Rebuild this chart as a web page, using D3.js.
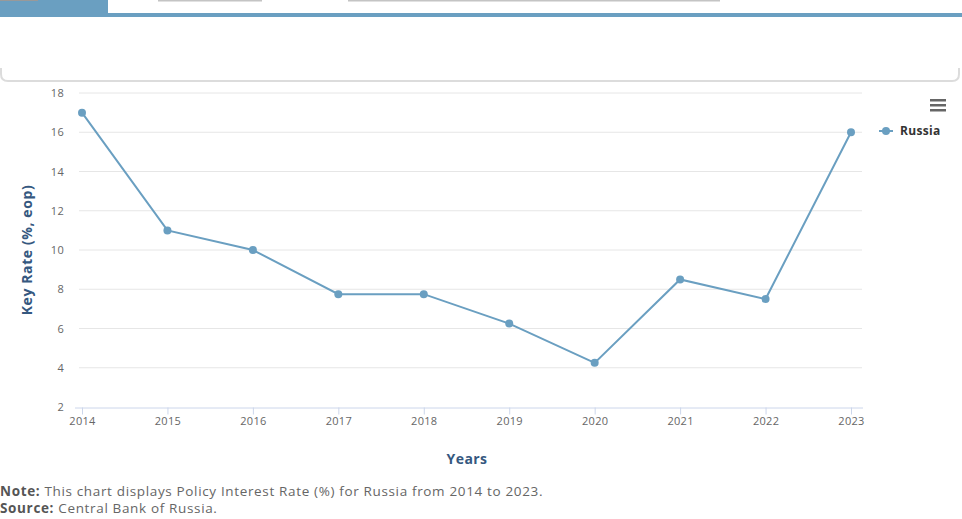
<!DOCTYPE html>
<html>
<head>
<meta charset="utf-8">
<script src="https://cdn.jsdelivr.net/npm/d3@7"></script>
<style>
  body { margin: 0; background: #fff; font-family: "Open Sans", sans-serif; }
  svg { display: block; }
</style>
</head>
<body>
<script>
let w = 962;
let h = 519;

let years = [2014, 2015, 2016, 2017, 2018, 2019, 2020, 2021, 2022, 2023];
let russia = [17, 11, 10, 7.75, 7.75, 6.25, 4.25, 8.5, 7.5, 16];
let yTicks = [2, 4, 6, 8, 10, 12, 14, 16, 18];

let lineColor = "#6a9fc1";
let titleColor = "#35587f";

let svg = d3.select("body")
    .append("svg")
    .attr("width", w)
    .attr("height", h)

// page decoration above chart
svg.append("rect").attr("x", 0).attr("y", 0).attr("width", 108).attr("height", 15).attr("fill", lineColor)
svg.append("rect").attr("x", 0).attr("y", 0).attr("width", 38).attr("height", 1).attr("fill", "#999")
svg.append("rect").attr("x", 158).attr("y", 0).attr("width", 104).attr("height", 1.5).attr("fill", "#c4c4c4")
svg.append("rect").attr("x", 348).attr("y", 0).attr("width", 372).attr("height", 1.5).attr("fill", "#c4c4c4")
svg.append("rect").attr("x", 0).attr("y", 13).attr("width", w).attr("height", 4).attr("fill", lineColor)
svg.append("path")
    .attr("d", "M1,68 L1,74 Q1,81 8,81 L952,81 Q959,81 959,74 L959,68")
    .attr("fill", "none")
    .attr("stroke", "#dcdcdc")
    .attr("stroke-width", 2)

let x = d3.scalePoint()
    .domain(years)
    .range([82, 851])

let y = d3.scaleLinear()
    .domain([2, 18])
    .range([407, 93])

// grid
svg.append("g")
    .selectAll("line")
    .data(yTicks.slice(1))
    .enter()
    .append("line")
    .attr("x1", 79)
    .attr("x2", 862)
    .attr("y1", d => y(d))
    .attr("y2", d => y(d))
    .attr("stroke", "#e6e6e6")
    .attr("stroke-width", 1)

// y axis labels
let yAxis = svg.append("g")
    .attr("transform", "translate(64,0)")
    .call(d3.axisLeft(y).tickValues(yTicks).tickSize(0).tickPadding(0))
yAxis.select(".domain").remove()
yAxis.selectAll("text")
    .attr("fill", "#666")
    .attr("font-family", "Open Sans, sans-serif")
    .attr("font-size", "11px")
    .attr("letter-spacing", "0.3px")

// x axis
let xAxis = svg.append("g")
    .attr("transform", "translate(0,407.5)")
    .call(d3.axisBottom(x).tickSize(7).tickPadding(3).tickSizeOuter(0))
xAxis.select(".domain")
    .attr("d", "M75,0.5H863")
    .attr("stroke", "#ccd6eb")
xAxis.selectAll("line").attr("stroke", "#ccd6eb")
xAxis.selectAll("text")
    .attr("fill", "#666")
    .attr("font-family", "Open Sans, sans-serif")
    .attr("font-size", "11px")
    .attr("letter-spacing", "0.3px")

// axis titles
svg.append("text")
    .text("Key Rate (%, eop)")
    .attr("transform", "translate(32,250) rotate(-90)")
    .attr("text-anchor", "middle")
    .attr("fill", titleColor)
    .attr("font-family", "Open Sans, sans-serif")
    .attr("font-weight", "bold")
    .attr("font-size", "14px")
    .attr("letter-spacing", "0.6px")

svg.append("text")
    .text("Years")
    .attr("x", 467)
    .attr("y", 464)
    .attr("text-anchor", "middle")
    .attr("fill", titleColor)
    .attr("font-family", "Open Sans, sans-serif")
    .attr("font-weight", "bold")
    .attr("font-size", "14px")
    .attr("letter-spacing", "0.4px")

// series
let data = years.map((d, i) => ({year: d, value: russia[i]}))

svg.append("path")
    .datum(data)
    .attr("d", d3.line().x(d => x(d.year)).y(d => y(d.value)))
    .attr("fill", "none")
    .attr("stroke", lineColor)
    .attr("stroke-width", 2)

svg.selectAll("circle.pt")
    .data(data)
    .enter()
    .append("circle")
    .attr("class", "pt")
    .attr("cx", d => x(d.year))
    .attr("cy", d => y(d.value))
    .attr("r", 4)
    .attr("fill", lineColor)

// legend
let legend = svg.append("g").attr("transform", "translate(879,131)")
legend.append("line").attr("x1", 0).attr("x2", 14).attr("y1", 0).attr("y2", 0)
    .attr("stroke", lineColor).attr("stroke-width", 2)
legend.append("circle").attr("cx", 7).attr("cy", 0).attr("r", 4).attr("fill", lineColor)
legend.append("text")
    .text("Russia")
    .attr("x", 21)
    .attr("y", 4)
    .attr("fill", "#333")
    .attr("font-family", "Open Sans, sans-serif")
    .attr("font-weight", "bold")
    .attr("font-size", "12px")
    .attr("letter-spacing", "0.3px")

// menu icon
svg.append("g")
    .selectAll("rect")
    .data([0, 5, 10])
    .enter()
    .append("rect")
    .attr("x", 930)
    .attr("y", d => 99 + d)
    .attr("width", 16)
    .attr("height", 2.5)
    .attr("fill", "#666")

// note and source
let note = svg.append("text")
    .attr("x", 0)
    .attr("y", 496)
    .attr("fill", "#666")
    .attr("font-family", "Open Sans, sans-serif")
    .attr("font-size", "13.5px")
    .attr("letter-spacing", "0.65px")
note.append("tspan").text("Note:").attr("font-weight", "bold").attr("fill", "#555")
note.append("tspan").text(" This chart displays Policy Interest Rate (%) for Russia from 2014 to 2023.")

let source = svg.append("text")
    .attr("x", 0)
    .attr("y", 513)
    .attr("fill", "#666")
    .attr("font-family", "Open Sans, sans-serif")
    .attr("font-size", "13.5px")
    .attr("letter-spacing", "0.65px")
source.append("tspan").text("Source:").attr("font-weight", "bold").attr("fill", "#555")
source.append("tspan").text(" Central Bank of Russia.")
</script>
</body>
</html>
